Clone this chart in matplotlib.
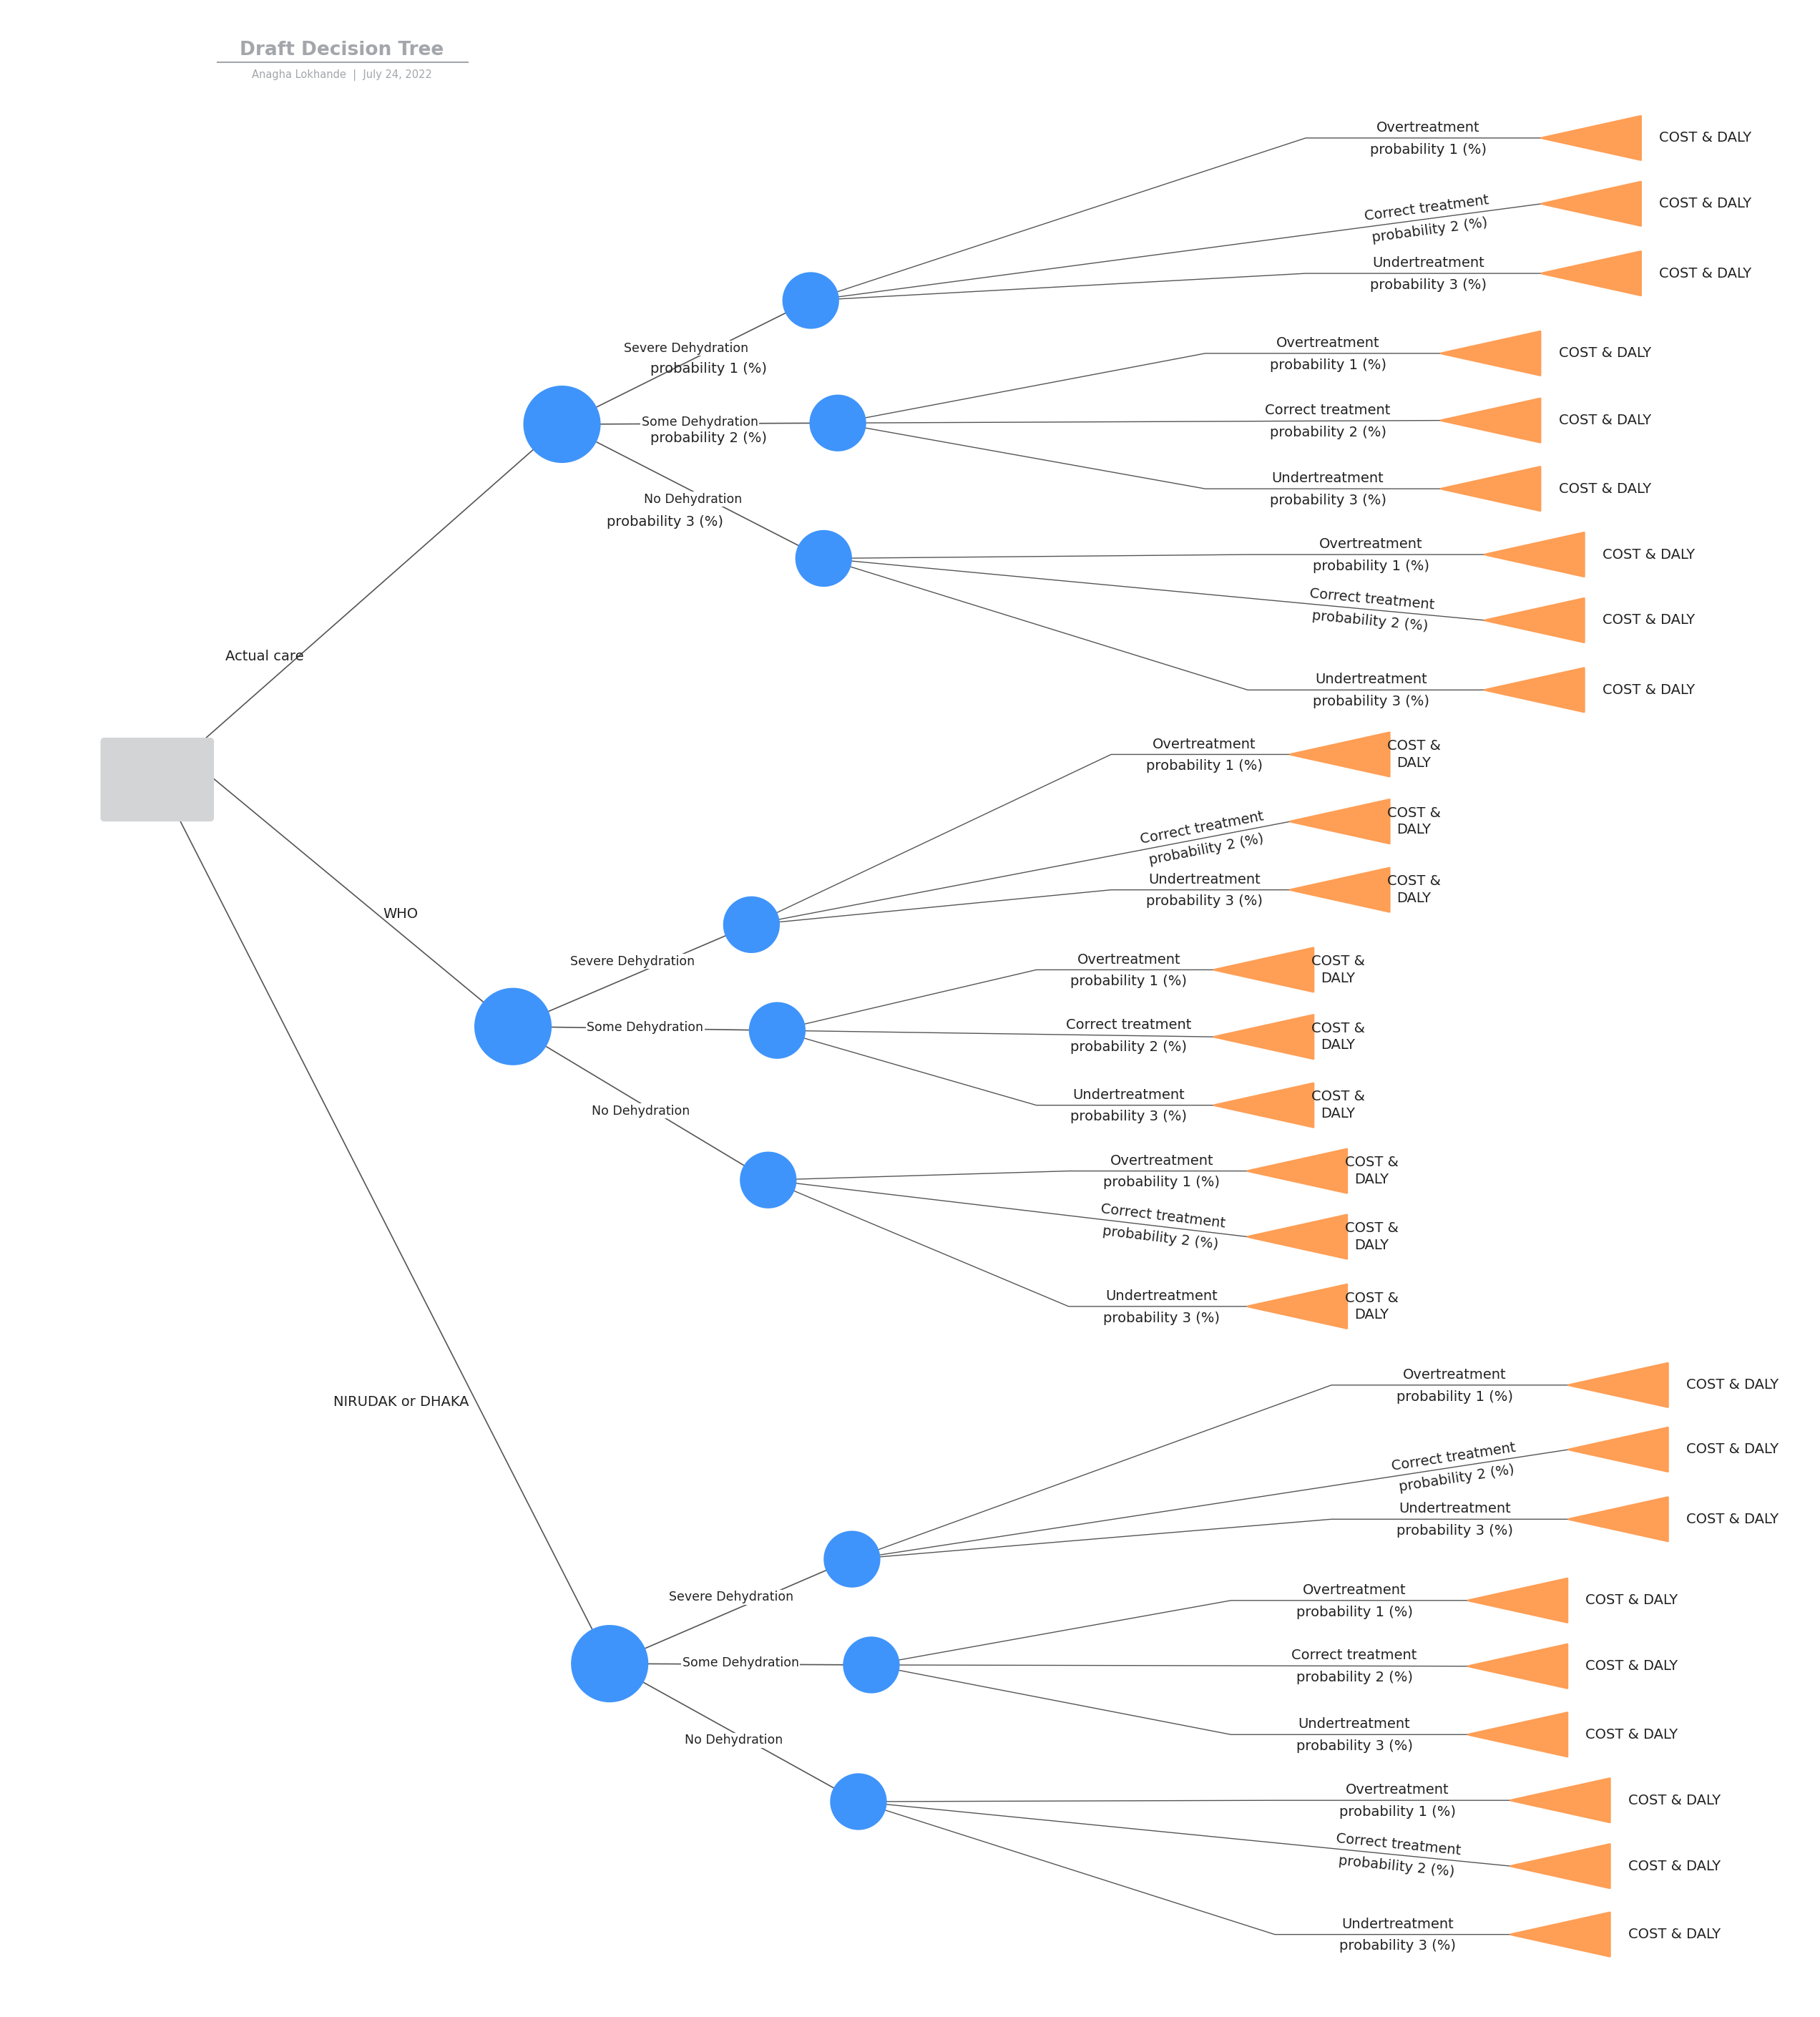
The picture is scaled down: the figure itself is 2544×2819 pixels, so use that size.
import math
import matplotlib
matplotlib.use("Agg")
import matplotlib.pyplot as plt
from matplotlib.patches import Circle, Polygon, FancyBboxPatch

# ---- data ----
title = "Draft Decision Tree"
subtitle = "Anagha Lokhande  |  July 24, 2022"
strategies = ["Actual care", "WHO", "NIRUDAK or DHAKA"]
states = ["Severe Dehydration", "Some Dehydration", "No Dehydration"]
state_probs = [["probability 1 (%)", "probability 2 (%)", "probability 3 (%)"], None, None]
outcomes = ["Overtreatment", "Correct treatment", "Undertreatment"]
outcome_probs = ["probability 1 (%)", "probability 2 (%)", "probability 3 (%)"]
payoffs = ["COST & DALY", "COST &\nDALY", "COST & DALY"]

# ---- layout (display units) ----
W, H = 1412, 1564
root = (78, 572, 88, 65)
strat_start = [(160, 572), (166, 604), (140, 637)]
strat_node = [(436, 329), (398, 796), (473, 1290)]
strat_label = [(205, 509), (311, 709), (311, 1087)]
state_node = [[(629, 233), (650, 328), (639, 433)],
              [(583, 717), (603, 799), (596, 915)],
              [(661, 1209), (676, 1291), (666, 1397)]]
state_prob_pos = [[(550, 286), (550, 340), (516, 405)], None, None]
elbow_x = [[1013, 935, 968], [862, 804, 829], [1033, 955, 989]]
tri_x = [[1196, 1118, 1152], [1001, 942, 968], [1217, 1139, 1172]]
leaf_y = [[[107, 158, 212], [274, 326, 379], [430, 481, 535]],
          [[585, 637, 690], [752, 804, 857], [908, 959, 1013]],
          [[1074, 1124, 1178], [1241, 1292, 1345], [1396, 1447, 1500]]]

BLUE = "#3F94FB"
ORANGE = "#FF9E55"
LINE = "#555555"
TXT = "#222222"

fig = plt.figure(figsize=(25.44, 28.19), dpi=100)
ax = fig.add_axes([0, 0, 1, 1])
ax.set_xlim(0, W)
ax.set_ylim(H, 0)
ax.axis("off")

# title
ax.text(265, 39, title, ha="center", va="center", fontsize=19, color="#A3A6AB", fontweight="bold")
ax.plot([169, 363], [48, 48], color="#A3A6AB", lw=1.5)
ax.text(265, 58, subtitle, ha="center", va="center", fontsize=10.5, color="#A3A6AB")

# root
ax.add_patch(FancyBboxPatch((root[0], root[1]), root[2], root[3],
                            boxstyle="round,pad=0,rounding_size=3",
                            fc="#D3D4D6", ec="none", zorder=3))

def rot(p, q):
    return math.degrees(math.atan2(-(q[1] - p[1]), q[0] - p[0]))

for i, strat in enumerate(strategies):
    s0, sn = strat_start[i], strat_node[i]
    ax.plot([s0[0], sn[0]], [s0[1], sn[1]], color=LINE, lw=1.2, zorder=1)
    ax.text(*strat_label[i], strat, ha="center", va="center", fontsize=14, color=TXT)
    ax.add_patch(Circle(sn, 30, fc=BLUE, ec="none", zorder=3))
    for j, st in enumerate(states):
        cn = state_node[i][j]
        ax.plot([sn[0], cn[0]], [sn[1], cn[1]], color=LINE, lw=1.2, zorder=1)
        mx, my = (sn[0] + cn[0]) / 2, (sn[1] + cn[1]) / 2
        if j == 1:
            ax.text(mx, my - 1, st, ha="center", va="center", fontsize=12.5, color=TXT,
                    bbox=dict(fc="white", ec="none", pad=1), zorder=2)
        else:
            ax.text(mx, my + (-11 if j == 0 else 6), st, ha="center", va="center",
                    fontsize=12.5, color=TXT, bbox=dict(fc="white", ec="none", pad=1), zorder=2)
        if state_probs[i] is not None:
            ax.text(*state_prob_pos[i][j], state_probs[i][j], ha="center", va="center",
                    fontsize=14, color=TXT)
        ax.add_patch(Circle(cn, 22, fc=BLUE, ec="none", zorder=3))
        ex, tx = elbow_x[i][j], tri_x[i][j]
        for k, oc in enumerate(outcomes):
            y = leaf_y[i][j][k]
            if k == 1:
                ax.plot([cn[0], tx], [cn[1], y], color=LINE, lw=1.0, zorder=1)
                lx = ex + (tx - ex) * 0.52
                ly = cn[1] + (y - cn[1]) * (lx - cn[0]) / (tx - cn[0])
                r = rot(cn, (tx, y))
                if abs(r) < 1.5:
                    r = 0
            else:
                ax.plot([cn[0], ex, tx], [cn[1], y, y], color=LINE, lw=1.0, zorder=1)
                lx = ex + (tx - ex) * 0.52
                ly = y
                r = 0
            a = math.radians(r)
            nx, ny = math.sin(a), math.cos(a)  # perpendicular (screen: up = -y)
            ax.text(lx - nx * 8, ly - ny * 8, oc, ha="center", va="center", fontsize=14,
                    color=TXT, rotation=r, rotation_mode="anchor")
            ax.text(lx + nx * 9, ly + ny * 9, outcome_probs[k], ha="center", va="center",
                    fontsize=14, color=TXT, rotation=r, rotation_mode="anchor")
            ax.add_patch(Polygon([(tx, y), (tx + 77, y - 17), (tx + 77, y + 17)],
                                 closed=True, fc=ORANGE, ec=ORANGE, lw=2,
                                 joinstyle="round", zorder=3))
            px = tx + 127 if "\n" not in payoffs[i] else tx + 96
            ax.text(px, y, payoffs[i], ha="center", va="center", fontsize=14,
                    color=TXT, linespacing=1.3)

fig.savefig("out.png", dpi=100, facecolor="white")
